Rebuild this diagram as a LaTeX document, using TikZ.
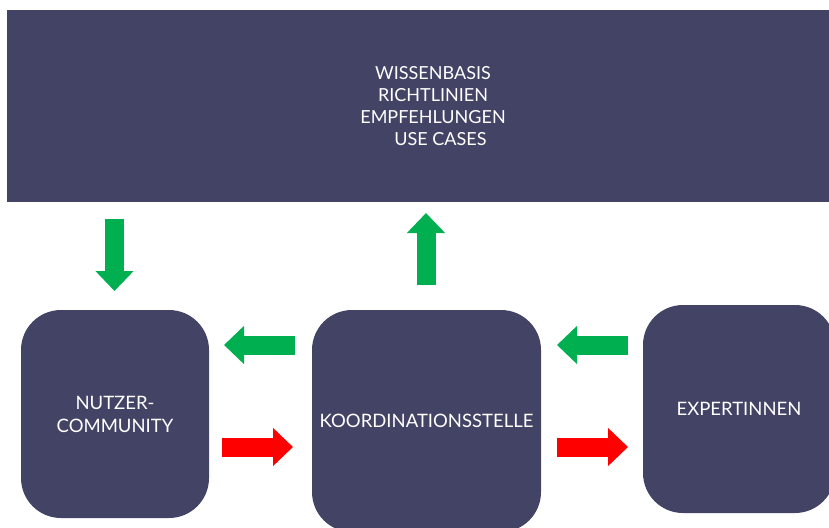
\documentclass[tikz,border=0pt]{standalone}
\usepackage{fontspec}
\setmainfont{Lato}
\usetikzlibrary{arrows.meta}

\definecolor{boxblue}{RGB}{67,67,102}
\definecolor{okgreen}{RGB}{0,176,80}
\definecolor{warnred}{RGB}{255,0,0}

\tikzset{
  block/.style={fill=boxblue, text=white, rounded corners=40pt, align=center,
    font=\fontsize{18.5}{23}\selectfont, inner sep=0pt},
  blockarrow/.style={line width=19pt, -{Triangle[width=37pt, length=20pt]}},
}

\begin{document}
\begin{tikzpicture}[x=1pt, y=-1pt]
  \useasboundingbox (0,0) rectangle (829,527);

  % Knowledge base on top
  \node[fill=boxblue, text=white, align=center, inner sep=0pt,
        minimum width=852pt, minimum height=192pt,
        font=\fontsize{18}{22}\selectfont] (kb) at (433,106)
    {WISSENBASIS\\RICHTLINIEN\\EMPFEHLUNGEN\\\hspace*{15pt}USE CASES};

  % The three actors
  \node[block, minimum width=188pt, minimum height=208pt] (nutzer) at (115,414) {NUTZER-\\COMMUNITY};
  \node[block, minimum width=229pt, minimum height=222pt] (koord) at (426.5,421) {KOORDINATIONSSTELLE};
  \node[block, minimum width=192pt, minimum height=208pt] (expert) at (739,409) {EXPERTINNEN};

  % Arrow ends
  \coordinate (kbOut) at (114.5,219);   \coordinate (nutzerIn) at (114.5,291);
  \coordinate (koordUp) at (426,285);   \coordinate (kbIn) at (426,213);
  \coordinate (koordL) at (295,345);    \coordinate (nutzerR) at (224,345);
  \coordinate (nutzerOut) at (222,447); \coordinate (koordIn) at (293,447);
  \coordinate (expertL) at (628,345);   \coordinate (koordR) at (557,345);
  \coordinate (koordOut) at (557,447);  \coordinate (expertIn) at (628,447);

  % Green: knowledge flows
  \foreach \a/\b in {kbOut/nutzerIn, koordUp/kbIn, koordL/nutzerR, expertL/koordR} {
    \draw[blockarrow, okgreen] (\a) -- (\b);
  }

  % Red: requests
  \foreach \a/\b in {nutzerOut/koordIn, koordOut/expertIn} {
    \draw[blockarrow, warnred] (\a) -- (\b);
  }
\end{tikzpicture}
\end{document}
